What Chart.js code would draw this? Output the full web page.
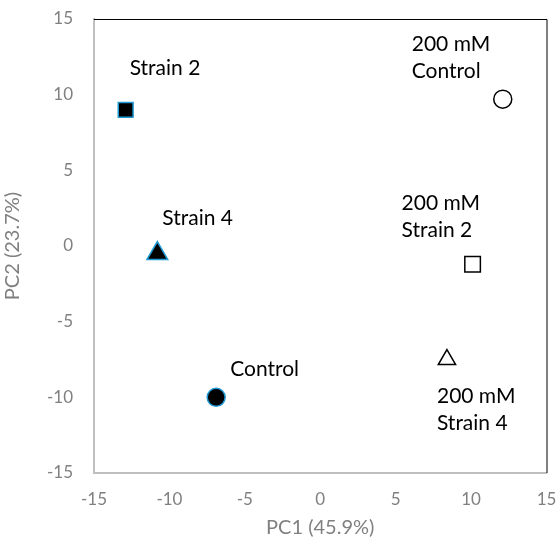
<!DOCTYPE html>
<html>
<head>
<meta charset="utf-8">
<script src="https://cdn.jsdelivr.net/npm/chart.js@4.4.1/dist/chart.umd.min.js"></script>
<style>
  html, body { margin: 0; padding: 0; background: #fff; }
  #wrap { width: 560px; height: 547px; }
</style>
</head>
<body>
<div id="wrap"><canvas id="pcaChart" width="560" height="547"></canvas></div>
<script>
// PCA scores per group
const groups = ["Control", "Strain 2", "Strain 4", "200 mM Control", "200 mM Strain 2", "200 mM Strain 4"];
const pc1 = [-6.9, -12.9, -10.8, 12.1, 10.1, 8.4];
const pc2 = [-10.0, 9.0, -0.5, 9.7, -1.2, -7.5];
const labelLines = [["Control"], ["Strain 2"], ["Strain 4"], ["200 mM", "Control"], ["200 mM", "Strain 2"], ["200 mM", "Strain 4"]];
const axisTicks = [-15, -10, -5, 0, 5, 10, 15];

// marker look per group
const shapes = ["circle", "rect", "triangle", "circle", "rect", "triangle"];
const sizes = [9, 10.5, 12, 9, 11, 10];
const fills = ["#000", "#000", "#000", "#fff", "#fff", "#fff"];
const edges = ["#1f9ad6", "#1f9ad6", "#1f9ad6", "#000", "#000", "#000"];
// label placement relative to the point (px): left edge, centre of first line
const labelOffsets = [[14, -28], [4, -42], [5, -35], [-91, -55], [-71, -61], [-10, 37]];

const fontFam = "Lato, 'Open Sans', sans-serif";

// labels next to points + black top/right frame
const annotate = {
  id: "annotate",
  afterDatasetsDraw(chart) {
    const { ctx, chartArea: a } = chart;
    ctx.save();
    ctx.strokeStyle = "#000";
    ctx.lineWidth = 1;
    ctx.beginPath();
    ctx.moveTo(a.left, a.top + 0.5);
    ctx.lineTo(a.right + 0.5, a.top + 0.5);
    ctx.lineTo(a.right + 0.5, a.bottom);
    ctx.stroke();

    const meta = chart.getDatasetMeta(0);
    ctx.fillStyle = "#000";
    ctx.font = "21px " + fontFam;
    ctx.textAlign = "left";
    ctx.textBaseline = "middle";
    meta.data.forEach((pt, i) => {
      const [dx, dy] = labelOffsets[i];
      labelLines[i].forEach((line, j) => {
        ctx.fillText(line, pt.x + dx, pt.y + dy + j * 27);
      });
    });
    ctx.restore();
  }
};

new Chart(document.getElementById("pcaChart"), {
  type: "scatter",
  data: {
    labels: groups,
    datasets: [{
      data: pc1.map((x, i) => ({ x: x, y: pc2[i] })),
      pointStyle: shapes,
      pointRadius: sizes,
      pointHoverRadius: sizes,
      pointBackgroundColor: fills,
      pointBorderColor: edges,
      pointBorderWidth: 1.5
    }]
  },
  options: {
    responsive: false,
    animation: false,
    layout: { padding: { top: 19, right: 11, left: 0, bottom: 0 } },
    plugins: { legend: { display: false }, tooltip: { enabled: false } },
    scales: {
      x: {
        type: "linear",
        min: -15, max: 15,
        afterBuildTicks: s => { s.ticks = axisTicks.map(v => ({ value: v })); },
        afterFit: s => { s.height = 74; s.paddingLeft = 0; s.paddingRight = 0; },
        grid: { display: false, drawTicks: false },
        border: { display: true, color: "#bfbfbf", width: 2 },
        ticks: { color: "#808080", font: { family: fontFam, size: 17 }, padding: 16 },
        title: { display: true, text: "PC1 (45.9%)", color: "#808080",
                 font: { family: fontFam, size: 20 }, padding: { top: 0, bottom: 7 } }
      },
      y: {
        type: "linear",
        min: -15, max: 15,
        afterBuildTicks: s => { s.ticks = axisTicks.map(v => ({ value: v })); },
        afterFit: s => { s.width = 94; s.paddingTop = 0; s.paddingBottom = 0; },
        grid: { display: false, drawTicks: false },
        border: { display: true, color: "#bfbfbf", width: 2 },
        ticks: { color: "#808080", font: { family: fontFam, size: 17 }, padding: 21 },
        title: { display: true, text: "PC2 (23.7%)", color: "#808080",
                 font: { family: fontFam, size: 20 }, padding: { top: 1, bottom: 0 } }
      }
    }
  },
  plugins: [annotate]
});
</script>
</body>
</html>
